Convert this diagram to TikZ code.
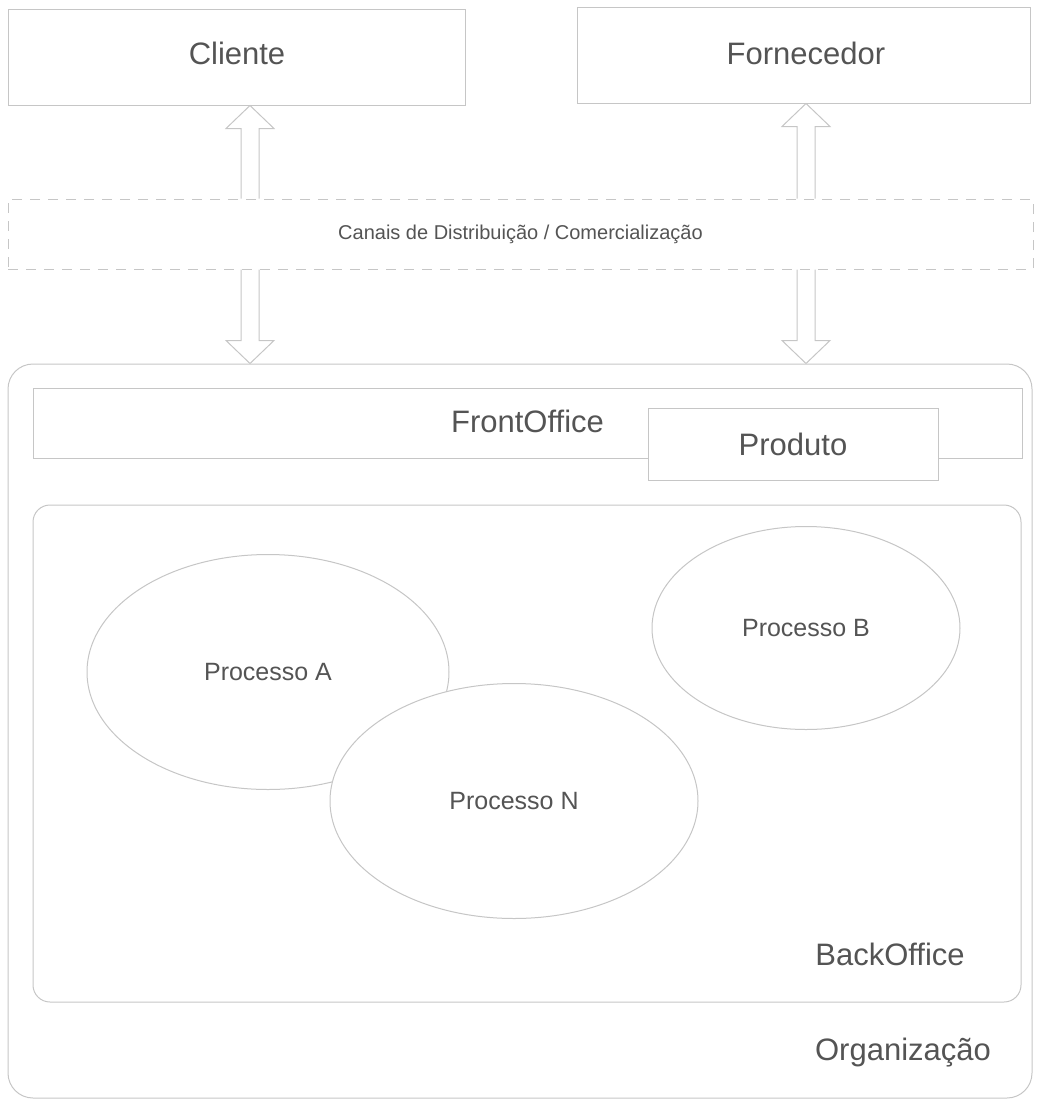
\documentclass[tikz,border=0pt]{standalone}
\usepackage{fontspec}
\setmainfont{Liberation Sans}
\usetikzlibrary{calc,shapes.geometric}
\definecolor{edge}{HTML}{C6C6C6}
\definecolor{ink}{HTML}{545454}

% vertical hollow block arrows: #1 = tip, #2 = end of the shaft
\newcommand\hollowup[2]{%
  \draw[blockarrow] let \p1=(#1), \p2=(#2) in
    (\x1-9pt,\y2) -- (\x1-9pt,\y1-23pt) -- (\x1-24pt,\y1-23pt) -- (\x1,\y1)
    -- (\x1+24pt,\y1-23pt) -- (\x1+9pt,\y1-23pt) -- (\x1+9pt,\y2);}
\newcommand\hollowdown[2]{%
  \draw[blockarrow] let \p1=(#1), \p2=(#2) in
    (\x1-9pt,\y2) -- (\x1-9pt,\y1+23pt) -- (\x1-24pt,\y1+23pt) -- (\x1,\y1)
    -- (\x1+24pt,\y1+23pt) -- (\x1+9pt,\y1+23pt) -- (\x1+9pt,\y2);}

\begin{document}
\begin{tikzpicture}[x=1pt,y=-1pt,
  box/.style={draw=edge,line width=1pt,rectangle,inner sep=0pt},
  dashbox/.style={box,dash pattern=on 10pt off 8pt},
  blockarrow/.style={draw=edge,line width=1pt,line join=miter},
  oval/.style={draw=edge,line width=1pt,ellipse,fill=white,inner sep=0pt},
  bigtext/.style={text=ink,font=\fontsize{31}{36}\selectfont},
  midtext/.style={text=ink,font=\fontsize{25}{30}\selectfont},
  smalltext/.style={text=ink,font=\fontsize{20}{24}\selectfont}]

\useasboundingbox (0,0) rectangle (1038,1101);

% parties outside the organisation
\node[box,minimum width=457pt,minimum height=96pt] (cli) at (236.5,57) {};
\node[bigtext,anchor=base] (tcli) at (237,64) {Cliente};
\node[box,minimum width=453pt,minimum height=96pt] (forn) at (803.5,55) {};
\node[bigtext,anchor=base] (tforn) at (806,64) {Fornecedor};

% distribution / sales channels
\node[dashbox,minimum width=1025pt,minimum height=70pt,smalltext] (can) at (520.5,234) {Canais de Distribuição / Comercialização};

% organisation with its front and back office
\node[box,rounded corners=25pt,minimum width=1024pt,minimum height=734pt] (org) at (520,731) {};
\node[bigtext,anchor=base] (torg) at (903,1060) {Organização};

\node[box,minimum width=989pt,minimum height=70pt] (front) at (527.5,423) {};
\node[bigtext,anchor=base] (tfront) at (527.5,432) {FrontOffice};
\node[box,fill=white,minimum width=290pt,minimum height=72pt,bigtext] (prod) at (793,444) {Produto};

\node[box,rounded corners=17pt,minimum width=988pt,minimum height=497pt] (back) at (527,753.5) {};
\node[bigtext,anchor=base] (tback) at (890,965) {BackOffice};

% processes
\node[oval,minimum width=362pt,minimum height=235pt,midtext] (pa) at (268,672) {Processo A};
\node[oval,minimum width=308pt,minimum height=203pt,midtext] (pb) at (806,628) {Processo B};
\node[oval,minimum width=368pt,minimum height=235pt,midtext] (pn) at (514,801) {Processo N};

% exchanges through the channels
\coordinate (xl) at (250,0);
\coordinate (xr) at (806,0);
\hollowup{cli.south -| xl}{can.north -| xl}
\hollowdown{org.north -| xl}{can.south -| xl}
\hollowup{forn.south -| xr}{can.north -| xr}
\hollowdown{org.north -| xr}{can.south -| xr}
\end{tikzpicture}
\end{document}
